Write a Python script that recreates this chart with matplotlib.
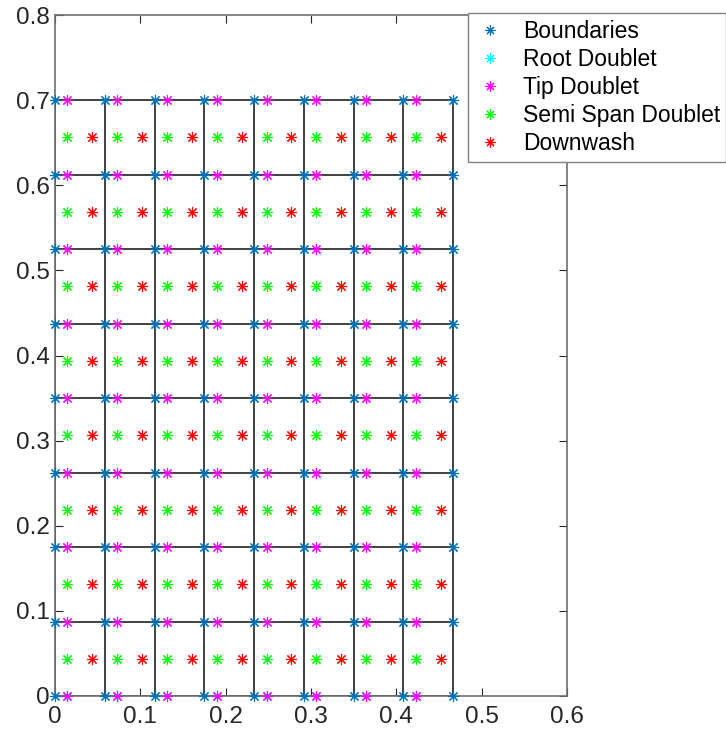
import matplotlib
matplotlib.use('Agg')
import matplotlib.pyplot as plt
import numpy as np

plt.rcParams['font.family'] = ['Liberation Sans', 'DejaVu Sans']

# panel boundaries (chordwise x, spanwise y)
x_edges = [0, 0.0583, 0.1167, 0.175, 0.2333, 0.2917, 0.35, 0.4083, 0.4667]
y_edges = [0, 0.0875, 0.175, 0.2625, 0.35, 0.4375, 0.525, 0.6125, 0.7]
# quarter-chord and three-quarter-chord x of each panel
x_quarter = [0.0146, 0.0729, 0.1313, 0.1896, 0.2479, 0.3063, 0.3646, 0.4229]
x_three_q = [0.0437, 0.1021, 0.1604, 0.2187, 0.2771, 0.3354, 0.3937, 0.4521]
# mid span of each panel
y_mid = [0.0438, 0.1313, 0.2188, 0.3063, 0.3938, 0.4813, 0.5688, 0.6563]
y_root = [0]

BLUE = '#0072BD'
CYAN = '#00FFFF'
MAGENTA = '#FF00FF'
GREEN = '#00FF00'
RED = '#FF0000'
AST = (8, 2, 0)

fig = plt.figure(figsize=(7.26, 7.34), dpi=100)
ax = fig.add_axes([55/726, 38/734, 512/726, 681/734])

bx, by = np.meshgrid(x_edges, y_edges)
rx, ry = np.meshgrid(x_quarter, y_root)
tx, ty = np.meshgrid(x_quarter, y_edges)
sx, sy = np.meshgrid(x_quarter, y_mid)
dx, dy = np.meshgrid(x_three_q, y_mid)

kw = dict(linestyle='none', marker=AST, markersize=8, markeredgewidth=0.8,
          clip_on=False, zorder=3)
ax.plot(bx.ravel(), by.ravel(), color=BLUE, label='Boundaries', **kw)
ax.plot(rx.ravel(), ry.ravel(), color=CYAN, label='Root Doublet', **kw)
ax.plot(tx.ravel(), ty.ravel(), color=MAGENTA, label='Tip Doublet', **kw)
ax.plot(sx.ravel(), sy.ravel(), color=GREEN, label='Semi Span Doublet', **kw)
ax.plot(dx.ravel(), dy.ravel(), color=RED, label='Downwash', **kw)

# panel outlines
for xe in x_edges:
    ax.plot([xe, xe], [y_edges[0], y_edges[-1]], color='#202020', lw=1.2, zorder=2.5)
for ye in y_edges:
    ax.plot([x_edges[0], x_edges[-1]], [ye, ye], color='#202020', lw=1.2, zorder=2.5)

ax.set_xlim(0, 0.6)
ax.set_ylim(0, 0.8)
ax.set_xticks([0, 0.1, 0.2, 0.3, 0.4, 0.5, 0.6])
ax.set_yticks([0, 0.1, 0.2, 0.3, 0.4, 0.5, 0.6, 0.7, 0.8])
ax.set_xticklabels(['0', '0.1', '0.2', '0.3', '0.4', '0.5', '0.6'])
ax.set_yticklabels(['0', '0.1', '0.2', '0.3', '0.4', '0.5', '0.6', '0.7', '0.8'])
ax.tick_params(direction='in', top=True, right=True, length=6, width=0.8,
               labelsize=17.5, colors='#262626')
ax.tick_params(axis='x', pad=7)
ax.tick_params(axis='y', pad=4)
for sp in ax.spines.values():
    sp.set_color('#707070')
    sp.set_linewidth(1.2)

leg = ax.legend(loc='upper left',
                bbox_to_anchor=(468/726, 1 - 162/734, 258/726, 149/734),
                bbox_transform=fig.transFigure, mode='expand', borderaxespad=0,
                fontsize=16.5, frameon=True, fancybox=False, framealpha=1,
                edgecolor='#808080', handlelength=1.3, handletextpad=0.8,
                labelspacing=0.22, borderpad=0.3, markerscale=0.9)
leg.get_frame().set_linewidth(1.0)
leg.set_zorder(5)

fig.savefig('out.png', dpi=100)
